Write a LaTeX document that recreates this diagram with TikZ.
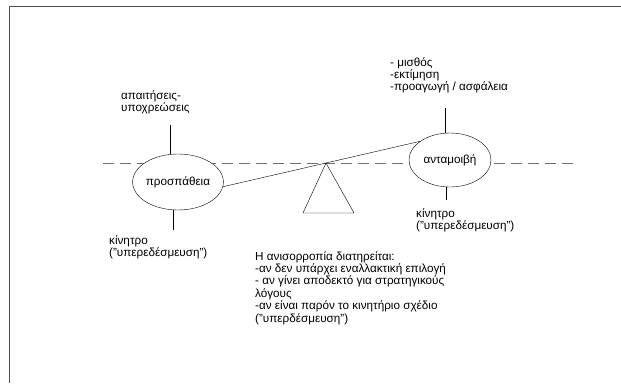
\documentclass[tikz,border=0pt]{standalone}
\usepackage{fontspec}
\setmainfont{Liberation Sans}
\usetikzlibrary{shapes.geometric}
\definecolor{framegray}{RGB}{80,80,96}
\definecolor{dashgray}{RGB}{110,110,110}
\begin{document}
\begin{tikzpicture}[x=1pt, y=-1pt, line join=round,
  font=\fontsize{11.7}{12.4}\selectfont,
  pan/.style={ellipse, draw, fill=white, minimum width=88pt, minimum height=56pt, inner sep=0pt},
  lbl/.style={anchor=base west, align=left, inner sep=0pt}]
\useasboundingbox (0,0) rectangle (621,383);
\draw[framegray, line width=1.5pt] (9.5,383) -- (9.5,6.5) -- (621,6.5);
\coordinate (dl) at (103,163);
\coordinate (dr) at (575,163);
\draw[dashgray, dash pattern=on 11pt off 6pt] (dl) -- (dr);
\node[pan] (effort) at (178,182) {προσπάθεια};
\node[pan, minimum width=82pt, minimum height=54pt] (reward) at (450,160) {ανταμοιβή};
\coordinate (apex) at (326,163);
\coordinate (bl) at (303,213);
\coordinate (br) at (354,213);
\draw (apex) -- (bl) -- (br) -- cycle;
\draw (effort.-6) -- (reward.148);
\coordinate (effup) at (170,125);
\coordinate (effdn) at (173,230);
\coordinate (rewup) at (445,108);
\coordinate (rewdn) at (446,200);
\draw (effup) -- (effup |- effort.north);
\draw (effort.south -| effdn) -- (effdn);
\draw (rewup) -- (rewup |- reward.north);
\draw (reward.south -| rewdn) -- (rewdn);
% base anchor sits on the last line
\node[lbl] (duties) at (121,111.4) {απαιτήσεις-\\υποχρεώσεις};
\node[lbl] (motL) at (109,256.4) {κίνητρο\\("υπερεδέσμευση")};
\node[lbl] (pay) at (390,90.8) {- μισθός\\-εκτίμηση\\-προαγωγή / ασφάλεια};
\node[lbl] (motR) at (416,229.4) {κίνητρο\\("υπερεδέσμευση")};
\node[lbl] (note) at (255,322) {Η ανισορροπία διατηρείται:\\-αν δεν υπάρχει εναλλακτική επιλογή\\- αν γίνει αποδεκτό για στρατηγικούς\\λόγους\\-αν είναι παρόν το κινητήριο σχέδιο\\("υπερδέσμευση")};
\end{tikzpicture}
\end{document}
